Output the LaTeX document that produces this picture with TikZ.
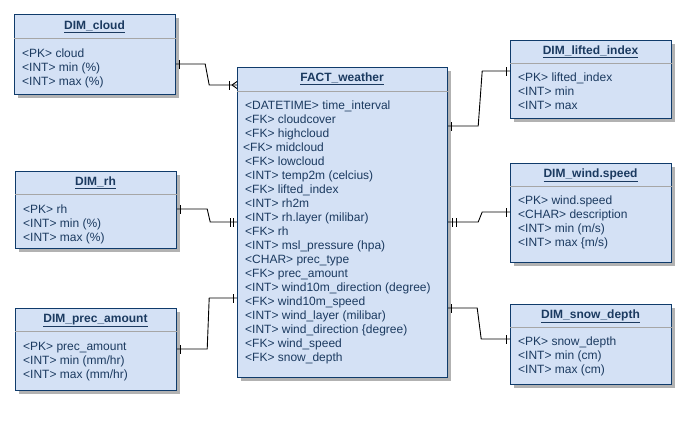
\documentclass[tikz,border=0pt]{standalone}
\usepackage{fontspec}
\setmainfont{Liberation Sans}
\usetikzlibrary{shadows,decorations.markings}
\definecolor{boxfill}{HTML}{D4E1F5}
\definecolor{boxline}{HTML}{0F3B6B}
\definecolor{boxtext}{HTML}{1B3A60}
\begin{document}
\begin{tikzpicture}[x=1pt, y=-1pt,
    table/.style={draw=boxline, fill=boxfill, line width=1.2pt, inner sep=0pt, anchor=north west,
      general shadow={fill=black!30, shadow xshift=3pt, shadow yshift=-3pt}},
    ttl/.style={font=\bfseries\fontsize{12}{14}\selectfont, text=boxtext, inner sep=0pt, anchor=base},
    row/.style={font=\fontsize{12}{14}\selectfont, text=boxtext, inner sep=0pt, anchor=base west},
    sepline/.style={draw=black!35, line width=1pt},
    conn/.style={draw=black, line width=0.9pt},
    onestart/.style={postaction={decorate,decoration={markings,
      mark=at position 3pt with {\draw (0,-4.5pt) -- (0,4.5pt);}}}},
    twostart/.style={postaction={decorate,decoration={markings,
      mark=at position 4pt with {\draw (0,-4.5pt) -- (0,4.5pt);},
      mark=at position 8pt with {\draw (0,-4.5pt) -- (0,4.5pt);}}}},
    oneend/.style={postaction={decorate,decoration={markings,
      mark=at position -4pt with {\draw (0,-4.5pt) -- (0,4.5pt);}}}},
    twoend/.style={postaction={decorate,decoration={markings,
      mark=at position -7pt with {\draw (0,-4.5pt) -- (0,4.5pt);},
      mark=at position -4pt with {\draw (0,-4.5pt) -- (0,4.5pt);}}}},
    manyend/.style={postaction={decorate,decoration={markings,
      mark=at position -8pt with {\draw (0,-4.5pt) -- (0,4.5pt);},
      mark=at position -5pt with {\draw (0,0) -- (5pt,3.5pt) (0,0) -- (5pt,-3.5pt);}}}}]

  \path[use as bounding box, fill=white] (0,0) rectangle (700,421);

  % fact table
  \node[table, minimum width=210pt, minimum height=310pt, name=fact] at (237,67) {};
  \node[ttl] (fact-t) at (342,81) {\underline{FACT\_weather}};
  \draw[sepline] (fact.west |- 0,91.5) -- (fact.east |- 0,91.5);
  \foreach \r [count=\i] in {<DATETIME> time\_interval, <FK> cloudcover, <FK> highcloud,
      \hspace{-2pt}<FK> midcloud, <FK> lowcloud, <INT> temp2m (celcius), <FK> lifted\_index,
      <INT> rh2m, <INT> rh.layer (milibar), <FK> rh, <INT> msl\_pressure (hpa),
      <CHAR> prec\_type, <FK> prec\_amount, <INT> wind10m\_direction (degree),
      <FK> wind10m\_speed, <INT> wind\_layer (milibar), <INT> wind\_direction \{degree),
      <FK> wind\_speed, <FK> snow\_depth}
    \node[row] (fact-r\i) at (245,95+14*\i) {\r};

  % left tables
  \node[table, minimum width=161pt, minimum height=80pt, name=cloud] at (14,14) {};
  \node[ttl] (cloud-t) at (94.5,29) {\underline{DIM\_cloud}};
  \draw[sepline] (cloud.west |- 0,38) -- (cloud.east |- 0,38);
  \foreach \r [count=\i] in {<PK> cloud, <INT> min (\%), <INT> max (\%)}
    \node[row] (cloud-r\i) at (22,43+14*\i) {\r};

  \node[table, minimum width=161pt, minimum height=77pt, name=rh] at (15,171) {};
  \node[ttl] (rh-t) at (95.5,185) {\underline{DIM\_rh}};
  \draw[sepline] (rh.west |- 0,194) -- (rh.east |- 0,194);
  \foreach \r [count=\i] in {<PK> rh, <INT> min (\%), <INT> max (\%)}
    \node[row] (rh-r\i) at (23,199+14*\i) {\r};

  \node[table, minimum width=161pt, minimum height=82pt, name=prec] at (15,308) {};
  \node[ttl] (prec-t) at (95.5,322) {\underline{DIM\_prec\_amount}};
  \draw[sepline] (prec.west |- 0,331.5) -- (prec.east |- 0,331.5);
  \foreach \r [count=\i] in {<PK> prec\_amount, <INT> min (mm/hr), <INT> max (mm/hr)}
    \node[row] (prec-r\i) at (23,336+14*\i) {\r};

  % right tables
  \node[table, minimum width=161pt, minimum height=78pt, name=lifted] at (510,40) {};
  \node[ttl] (lifted-t) at (590.5,54) {\underline{DIM\_lifted\_index}};
  \draw[sepline] (lifted.west |- 0,63.5) -- (lifted.east |- 0,63.5);
  \foreach \r [count=\i] in {<PK> lifted\_index, <INT> min, <INT> max}
    \node[row] (lifted-r\i) at (518,67+14*\i) {\r};

  \node[table, minimum width=161pt, minimum height=99pt, name=wind] at (510,163) {};
  \node[ttl] (wind-t) at (590.5,177) {\underline{DIM\_wind.speed}};
  \draw[sepline] (wind.west |- 0,186) -- (wind.east |- 0,186);
  \foreach \r [count=\i] in {<PK> wind.speed, <CHAR> description, <INT> min (m/s), <INT> max \{m/s)}
    \node[row] (wind-r\i) at (518,190+14*\i) {\r};

  \node[table, minimum width=161pt, minimum height=80pt, name=snow] at (510,304) {};
  \node[ttl] (snow-t) at (590.5,318) {\underline{DIM\_snow\_depth}};
  \draw[sepline] (snow.west |- 0,327.5) -- (snow.east |- 0,327.5);
  \foreach \r [count=\i] in {<PK> snow\_depth, <INT> min (cm), <INT> max (cm)}
    \node[row] (snow-r\i) at (518,331+14*\i) {\r};

  % relations
  \draw[conn, onestart, manyend] (cloud.east |- 0,64) -- ++(29,0) -- ++(4,21) -- (fact.west |- 0,85);
  \draw[conn, onestart, twoend] (rh.east |- 0,209) -- ++(30,0) -- ++(3,13) -- (fact.west |- 0,222);
  \draw[conn, onestart, oneend] (prec.east |- 0,349) -- ++(30,0) -- ++(2,-51) -- (fact.west |- 0,298);
  \draw[conn, onestart, oneend] (fact.east |- 0,126) -- ++(30,0) -- ++(4,-55) -- (lifted.west |- 0,71);
  \draw[conn, twostart, oneend] (fact.east |- 0,222) -- ++(30,0) -- ++(4,-10) -- (wind.west |- 0,212);
  \draw[conn, onestart, oneend] (fact.east |- 0,308) -- ++(29,0) -- ++(4,31) -- (snow.west |- 0,339);
\end{tikzpicture}
\end{document}
